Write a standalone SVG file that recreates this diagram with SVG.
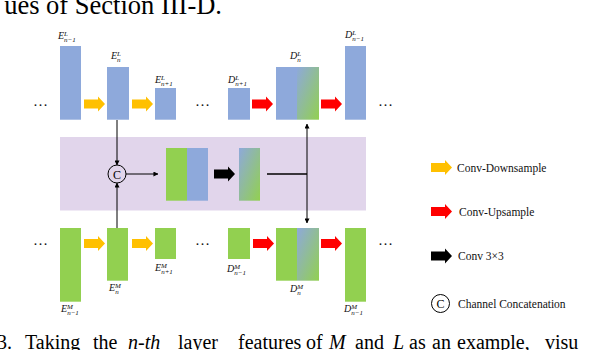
<svg xmlns="http://www.w3.org/2000/svg" xmlns:xlink="http://www.w3.org/1999/xlink" width="604" height="350" viewBox="0 0 604 350">
<style>
.bl{fill:#8EA9DB}
.gr{fill:#92D050}
.lb{font-family:"Liberation Serif",serif;font-style:italic;font-size:10px;fill:#111}
.sp{font-size:7px}
.dots{font-family:"Liberation Serif",serif;font-size:15px;fill:#111}
.lg{font-family:"Liberation Serif",serif;font-size:11.5px;fill:#111}
.body{font-family:"Liberation Serif",serif;fill:#000}
.ln{stroke:#000;stroke-width:1;fill:none}
</style>
<defs>
<path id="arw" d="M0,-4.5 H14 V-7.5 L21,0 L14,7.5 V4.5 H0 Z"/>
<marker id="ah" viewBox="0 0 6 6" refX="5.5" refY="3" markerWidth="5" markerHeight="5" orient="auto" markerUnits="userSpaceOnUse">
<path d="M0,0 L6,3 L0,6 Z" fill="#000"/>
</marker>
<linearGradient id="gd" x1="0" y1="0" x2="1" y2="1">
<stop offset="0" stop-color="#8EA9DB"/>
<stop offset="1" stop-color="#92D050"/>
</linearGradient>
</defs>

<text class="body" x="222" y="14" font-size="26.5" text-anchor="end">ues of Section III-D.</text>

<rect id="band" x="60" y="137" width="306" height="73.5" fill="#E1D5EB"/>

<g id="L-row">
<g id="EL_nm1"><rect class="bl" x="60" y="46" width="21" height="73.7"/>
<text class="lb" x="58" y="39">E<tspan class="sp" dy="-3.5">L</tspan><tspan class="sp" dx="-3.9" dy="6.5">n−1</tspan></text></g>
<g id="EL_n"><rect class="bl" x="107" y="67" width="22" height="52.7"/>
<text class="lb" x="111" y="59">E<tspan class="sp" dy="-3.5">L</tspan><tspan class="sp" dx="-3.9" dy="6.5">n</tspan></text></g>
<g id="EL_np1"><rect class="bl" x="155" y="88" width="21" height="31.7"/>
<text class="lb" x="155" y="83">E<tspan class="sp" dy="-3.5">L</tspan><tspan class="sp" dx="-3.9" dy="6.5">n+1</tspan></text></g>
<g id="DL_np1"><rect class="bl" x="228" y="88" width="22" height="31.7"/>
<text class="lb" x="228" y="83">D<tspan class="sp" dy="-3.5">L</tspan><tspan class="sp" dx="-3.9" dy="6.5">n+1</tspan></text></g>
<g id="DL_n"><rect class="bl" x="276" y="67" width="21" height="52.7"/><rect x="297" y="67" width="22" height="52.7" fill="url(#gd)"/>
<text class="lb" x="290" y="59">D<tspan class="sp" dy="-3.5">L</tspan><tspan class="sp" dx="-3.9" dy="6.5">n</tspan></text></g>
<g id="DL_nm1"><rect class="bl" x="345" y="46" width="21" height="73.7"/>
<text class="lb" x="345" y="38">D<tspan class="sp" dy="-3.5">L</tspan><tspan class="sp" dx="-3.9" dy="6.5">n−1</tspan></text></g>
<text class="dots" x="33" y="106">…</text>
<text class="dots" x="195" y="106">…</text>
<text class="dots" x="378" y="106">…</text>
</g>

<g id="M-row">
<g id="EM_nm1"><rect class="gr" x="60" y="228" width="21" height="73.7"/>
<text class="lb" x="61" y="312">E<tspan class="sp" dy="-3.5">M</tspan><tspan class="sp" dx="-5.8" dy="6.5">n−1</tspan></text></g>
<g id="EM_n"><rect class="gr" x="107" y="228" width="21" height="52.7"/>
<text class="lb" x="109" y="291">E<tspan class="sp" dy="-3.5">M</tspan><tspan class="sp" dx="-5.8" dy="6.5">n</tspan></text></g>
<g id="EM_np1"><rect class="gr" x="155" y="228" width="21" height="31"/>
<text class="lb" x="155" y="271">E<tspan class="sp" dy="-3.5">M</tspan><tspan class="sp" dx="-5.8" dy="6.5">n+1</tspan></text></g>
<g id="DM_np1"><rect class="gr" x="228" y="228" width="22" height="31"/>
<text class="lb" x="227" y="272">D<tspan class="sp" dy="-3.5">M</tspan><tspan class="sp" dx="-5.8" dy="6.5">n−1</tspan></text></g>
<g id="DM_n"><rect class="gr" x="276" y="228" width="21" height="52.7"/><rect x="297" y="228" width="22" height="52.7" fill="url(#gd)"/>
<text class="lb" x="290" y="292">D<tspan class="sp" dy="-3.5">M</tspan><tspan class="sp" dx="-5.8" dy="6.5">n</tspan></text></g>
<g id="DM_nm1"><rect class="gr" x="345" y="228" width="21" height="73.7"/>
<text class="lb" x="344" y="312">D<tspan class="sp" dy="-3.5">M</tspan><tspan class="sp" dx="-5.8" dy="6.5">n−1</tspan></text></g>
<text class="dots" x="33" y="245">…</text>
<text class="dots" x="195" y="245">…</text>
<text class="dots" x="378" y="245">…</text>
</g>

<g id="middle">
<g id="concat-node"><circle cx="117" cy="174" r="9" fill="none" stroke="#000" stroke-width="1"/>
<text x="117" y="178.5" text-anchor="middle" font-family="Liberation Serif,serif" font-size="12">C</text></g>
<g id="concat-block"><rect class="gr" x="166" y="148" width="21" height="52.7"/><rect class="bl" x="187" y="148" width="21" height="52.7"/></g>
<g id="conv-block"><rect x="239" y="148" width="21" height="52.7" fill="url(#gd)"/></g>
</g>

<g id="connectors">
<use xlink:href="#arw" x="84" y="104" fill="#FFC000"/>
<use xlink:href="#arw" x="132" y="104" fill="#FFC000"/>
<use xlink:href="#arw" x="252" y="104" fill="#FF0000"/>
<use xlink:href="#arw" x="321" y="104" fill="#FF0000"/>
<use xlink:href="#arw" x="84" y="243.5" fill="#FFC000"/>
<use xlink:href="#arw" x="132" y="243.5" fill="#FFC000"/>
<use xlink:href="#arw" x="253" y="243.5" fill="#FF0000"/>
<use xlink:href="#arw" x="321" y="243.5" fill="#FF0000"/>
<use xlink:href="#arw" x="214" y="174" fill="#000"/>
<line class="ln" x1="117" y1="120" x2="117" y2="165" marker-end="url(#ah)"/>
<line class="ln" x1="117" y1="228" x2="117" y2="183" marker-end="url(#ah)"/>
<line class="ln" x1="126" y1="174" x2="158" y2="174" marker-end="url(#ah)"/>
<line x1="267" y1="174" x2="307" y2="174" stroke="#000" stroke-width="1.6"/>
<line class="ln" x1="307" y1="174" x2="307" y2="124" marker-end="url(#ah)"/>
<line class="ln" x1="307" y1="174" x2="307" y2="223" marker-end="url(#ah)"/>
</g>

<g id="legend">
<g id="lg-down"><use xlink:href="#arw" x="431" y="167.5" fill="#FFC000"/><text class="lg" x="457" y="171.5">Conv-Downsample</text></g>
<g id="lg-up"><use xlink:href="#arw" x="431" y="211.5" fill="#FF0000"/><text class="lg" x="459" y="215.5">Conv-Upsample</text></g>
<g id="lg-conv"><use xlink:href="#arw" x="431" y="256" fill="#000"/><text class="lg" x="458" y="260">Conv 3×3</text></g>
<g id="lg-cat"><circle cx="440.5" cy="303.5" r="9" fill="none" stroke="#000" stroke-width="1"/>
<text x="440.5" y="308" text-anchor="middle" font-family="Liberation Serif,serif" font-size="12">C</text>
<text class="lg" x="458" y="307.5">Channel Concatenation</text></g>
</g>

<text class="body" y="348.6" font-size="20"><tspan x="-3">3.</tspan><tspan x="25">Taking</tspan><tspan x="93">the</tspan><tspan x="128" font-style="italic">n-th</tspan><tspan x="178">layer</tspan><tspan x="238">features</tspan><tspan x="306">of</tspan><tspan x="329" font-style="italic">M</tspan><tspan x="355">and</tspan><tspan x="393" font-style="italic">L</tspan><tspan x="409">as</tspan><tspan x="432">an</tspan><tspan x="457">example,</tspan><tspan x="545">visu</tspan></text>
</svg>
